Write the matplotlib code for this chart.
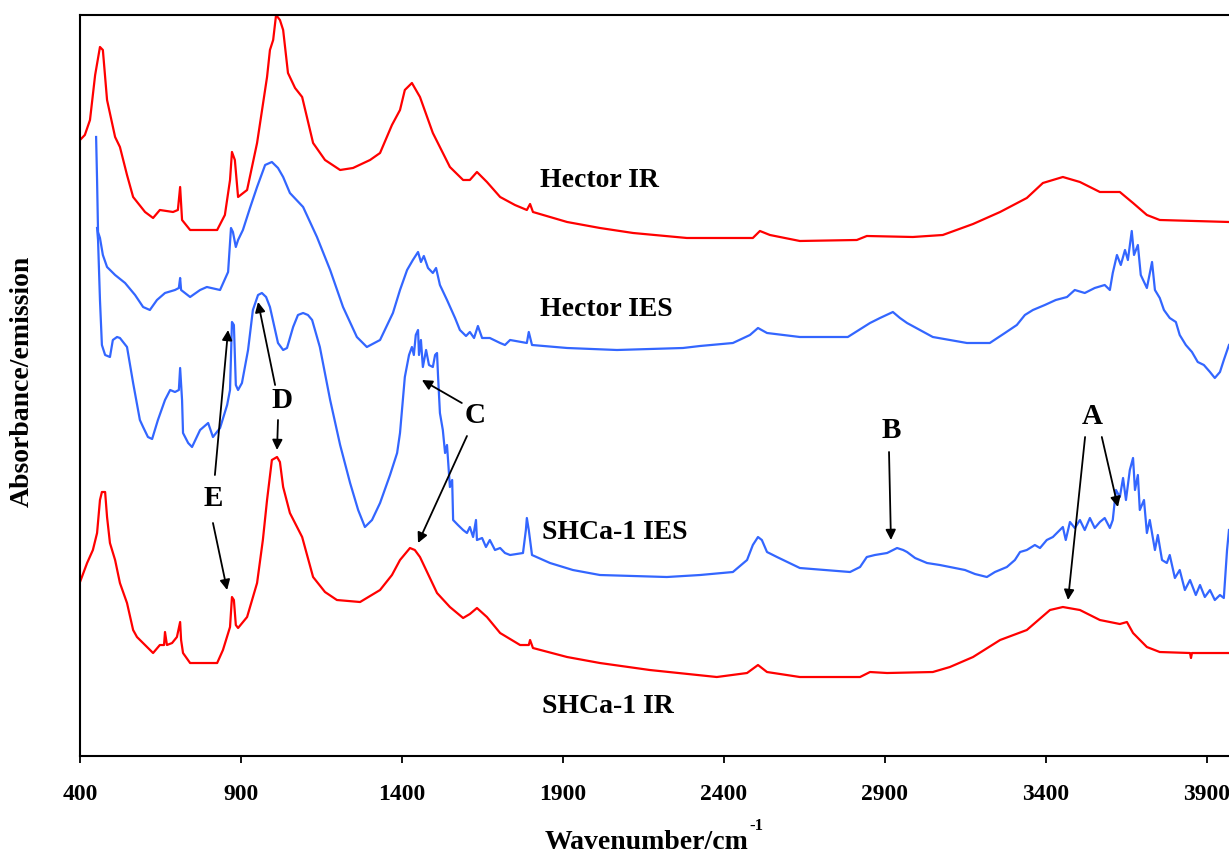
import matplotlib
matplotlib.use('Agg')
import matplotlib.pyplot as plt

# Spectra (wavenumber / offset absorbance-emission, arbitrary units)
hector_ir_wn = [400, 415, 431, 447, 462, 471, 484, 509, 524, 546, 565, 602, 627, 648, 689, 704, 711, 717,
                742, 826, 850, 866, 872, 881, 891, 919, 950, 981, 990, 1000, 1009, 1021, 1031, 1046, 1068,
                1090, 1124, 1161, 1208, 1248, 1301, 1332, 1369, 1394, 1409, 1431, 1456, 1496, 1549, 1590,
                1611, 1633, 1664, 1705, 1751, 1788, 1798, 1807, 1913, 2015, 2118, 2285, 2490, 2512, 2543,
                2636, 2813, 2844, 2987, 3080, 3174, 3258, 3341, 3391, 3453, 3506, 3568, 3630, 3671, 3714,
                3754, 3969]
hector_ir_abs = [6.16, 6.21, 6.36, 6.81, 7.09, 7.06, 6.56, 6.19, 6.09, 5.81, 5.59, 5.44, 5.38, 5.46, 5.44,
                 5.46, 5.69, 5.36, 5.26, 5.26, 5.41, 5.76, 6.04, 5.96, 5.59, 5.66, 6.13, 6.79, 7.06, 7.16,
                 7.41, 7.36, 7.26, 6.83, 6.68, 6.59, 6.13, 5.96, 5.86, 5.88, 5.96, 6.03, 6.31, 6.46, 6.66,
                 6.73, 6.59, 6.23, 5.89, 5.76, 5.76, 5.84, 5.74, 5.59, 5.51, 5.46, 5.52, 5.44, 5.34, 5.28,
                 5.23, 5.18, 5.18, 5.25, 5.21, 5.15, 5.16, 5.20, 5.19, 5.21, 5.32, 5.44, 5.58, 5.73, 5.79,
                 5.74, 5.64, 5.64, 5.53, 5.41, 5.36, 5.34]

hector_ies_wn = [450, 453, 456, 462, 471, 484, 509, 540, 571, 596, 617, 639, 664, 695, 707, 711, 714, 742,
                 773, 794, 835, 860, 869, 875, 884, 891, 906, 928, 950, 975, 996, 1015, 1031, 1052, 1093,
                 1136, 1177, 1217, 1260, 1291, 1332, 1372, 1394, 1416, 1434, 1450, 1459, 1468, 1481, 1496,
                 1506, 1518, 1540, 1565, 1580, 1599, 1611, 1624, 1636, 1649, 1673, 1705, 1720, 1736, 1788,
                 1794, 1804, 1913, 2068, 2273, 2326, 2428, 2481, 2506, 2534, 2636, 2785, 2854, 2885, 2925,
                 2947, 2969, 3009, 3049, 3102, 3155, 3226, 3273, 3310, 3335, 3360, 3397, 3431, 3466, 3490,
                 3521, 3552, 3583, 3599, 3608, 3621, 3633, 3646, 3655, 3667, 3674, 3686, 3695, 3714, 3730,
                 3739, 3754, 3767, 3785, 3804, 3816, 3835, 3854, 3872, 3891, 3910, 3925, 3941, 3953, 3969]
hector_ies_abs = [6.19, 5.76, 5.24, 5.18, 5.01, 4.89, 4.81, 4.73, 4.61, 4.49, 4.46, 4.56, 4.63, 4.66, 4.68,
                  4.78, 4.66, 4.59, 4.66, 4.69, 4.66, 4.84, 5.28, 5.24, 5.09, 5.16, 5.26, 5.48, 5.69, 5.91,
                  5.94, 5.88, 5.79, 5.63, 5.49, 5.19, 4.86, 4.49, 4.19, 4.09, 4.16, 4.43, 4.66, 4.86, 4.96,
                  5.04, 4.94, 5.00, 4.88, 4.83, 4.88, 4.71, 4.56, 4.38, 4.26, 4.20, 4.24, 4.18, 4.30, 4.18,
                  4.18, 4.13, 4.11, 4.16, 4.13, 4.24, 4.11, 4.08, 4.06, 4.08, 4.10, 4.13, 4.21, 4.28, 4.23,
                  4.19, 4.19, 4.33, 4.38, 4.44, 4.38, 4.33, 4.26, 4.19, 4.16, 4.13, 4.13, 4.23, 4.31, 4.41,
                  4.46, 4.51, 4.56, 4.59, 4.66, 4.63, 4.68, 4.71, 4.66, 4.83, 5.01, 4.91, 5.06, 4.96, 5.25,
                  5.01, 5.11, 4.81, 4.68, 4.94, 4.66, 4.58, 4.46, 4.38, 4.34, 4.21, 4.11, 4.04, 3.94, 3.91,
                  3.84, 3.78, 3.84, 3.96, 4.11]

shca_ies_wn = [453, 456, 462, 468, 478, 493, 502, 515, 524, 546, 565, 586, 596, 611, 624, 642, 664, 680,
               695, 707, 711, 717, 720, 736, 748, 773, 798, 813, 835, 857, 866, 872, 878, 884, 891, 903,
               922, 937, 953, 965, 978, 990, 1006, 1015, 1031, 1043, 1062, 1077, 1093, 1108, 1121, 1145,
               1177, 1208, 1239, 1264, 1285, 1307, 1332, 1363, 1385, 1394, 1409, 1422, 1431, 1437, 1443,
               1450, 1453, 1459, 1465, 1475, 1484, 1496, 1503, 1509, 1512, 1518, 1527, 1534, 1540, 1549,
               1556, 1559, 1574, 1590, 1602, 1611, 1621, 1630, 1633, 1649, 1661, 1673, 1689, 1705, 1720,
               1736, 1776, 1785, 1788, 1794, 1804, 1860, 1931, 2015, 2223, 2326, 2428, 2472, 2490, 2506,
               2518, 2534, 2565, 2636, 2792, 2823, 2844, 2869, 2907, 2938, 2957, 2969, 2994, 3031, 3071,
               3102, 3149, 3180, 3217, 3242, 3279, 3304, 3320, 3341, 3366, 3382, 3403, 3422, 3444, 3453,
               3462, 3475, 3490, 3506, 3521, 3537, 3552, 3568, 3583, 3599, 3608, 3618, 3630, 3640, 3649,
               3661, 3671, 3677, 3686, 3692, 3705, 3714, 3723, 3739, 3748, 3761, 3776, 3785, 3801, 3816,
               3832, 3848, 3866, 3879, 3894, 3910, 3925, 3941, 3953, 3963, 3969]
shca_ies_abs = [5.28, 5.16, 4.56, 4.11, 4.01, 3.99, 4.16, 4.19, 4.18, 4.09, 3.73, 3.36, 3.29, 3.19, 3.17,
                3.36, 3.56, 3.66, 3.64, 3.66, 3.88, 3.56, 3.23, 3.13, 3.09, 3.26, 3.33, 3.19, 3.28, 3.51,
                3.66, 4.34, 4.31, 3.71, 3.66, 3.73, 4.06, 4.46, 4.61, 4.63, 4.59, 4.49, 4.26, 4.13, 4.06,
                4.08, 4.29, 4.41, 4.43, 4.41, 4.36, 4.09, 3.56, 3.11, 2.73, 2.46, 2.29, 2.36, 2.53, 2.81,
                3.03, 3.23, 3.79, 4.01, 4.09, 4.01, 4.21, 4.26, 4.01, 4.16, 3.89, 4.06, 3.91, 3.89, 4.01,
                4.03, 3.81, 3.43, 3.26, 3.03, 3.11, 2.69, 2.76, 2.36, 2.31, 2.26, 2.23, 2.29, 2.19, 2.36,
                2.16, 2.18, 2.09, 2.16, 2.06, 2.08, 2.03, 2.01, 2.03, 2.26, 2.38, 2.26, 2.01, 1.93, 1.86,
                1.81, 1.79, 1.81, 1.84, 1.96, 2.11, 2.19, 2.16, 2.04, 1.99, 1.88, 1.84, 1.89, 1.99, 2.01,
                2.03, 2.08, 2.06, 2.04, 1.98, 1.93, 1.91, 1.89, 1.86, 1.82, 1.79, 1.84, 1.89, 1.96, 2.04,
                2.06, 2.11, 2.08, 2.16, 2.19, 2.26, 2.29, 2.16, 2.34, 2.28, 2.36, 2.26, 2.38, 2.28, 2.34,
                2.38, 2.28, 2.36, 2.66, 2.59, 2.78, 2.56, 2.86, 2.98, 2.66, 2.81, 2.46, 2.56, 2.23, 2.36,
                2.06, 2.21, 1.96, 1.93, 2.01, 1.78, 1.86, 1.66, 1.76, 1.61, 1.71, 1.59, 1.66, 1.56, 1.61,
                1.58, 2.06, 2.26]

shca_ir_wn = [400, 422, 440, 453, 462, 468, 478, 484, 493, 509, 524, 546, 565, 577, 602, 627, 648, 661,
              664, 670, 686, 701, 711, 714, 720, 742, 826, 844, 866, 872, 878, 884, 891, 919, 950, 968,
              981, 996, 1012, 1021, 1031, 1052, 1090, 1124, 1161, 1198, 1270, 1332, 1369, 1394, 1425,
              1440, 1456, 1509, 1549, 1590, 1611, 1633, 1664, 1705, 1767, 1794, 1798, 1807, 1913, 2015,
              2170, 2378, 2472, 2506, 2534, 2636, 2823, 2854, 2907, 3049, 3102, 3174, 3258, 3341, 3413,
              3453, 3506, 3568, 3630, 3652, 3671, 3714, 3754, 3848, 3851, 3854, 3969]
shca_ir_abs = [1.74, 1.93, 2.06, 2.23, 2.56, 2.64, 2.64, 2.39, 2.13, 1.96, 1.73, 1.53, 1.26, 1.19, 1.11,
               1.03, 1.11, 1.11, 1.24, 1.11, 1.13, 1.19, 1.34, 1.16, 1.03, 0.93, 0.93, 1.06, 1.29, 1.59,
               1.56, 1.31, 1.28, 1.39, 1.73, 2.16, 2.56, 2.96, 2.99, 2.94, 2.69, 2.43, 2.19, 1.79, 1.64,
               1.56, 1.54, 1.66, 1.81, 1.96, 2.08, 2.06, 1.99, 1.63, 1.49, 1.38, 1.42, 1.48, 1.39, 1.23,
               1.11, 1.11, 1.16, 1.08, 0.99, 0.93, 0.86, 0.79, 0.83, 0.91, 0.84, 0.79, 0.79, 0.84, 0.83,
               0.84, 0.89, 0.99, 1.16, 1.26, 1.46, 1.49, 1.46, 1.36, 1.32, 1.34, 1.23, 1.09, 1.04, 1.03,
               0.98, 1.03, 1.03]

xticks = [400, 900, 1400, 1900, 2400, 2900, 3400, 3900]

RED = '#FF0000'
BLUE = '#3366FF'
SERIF = 'Liberation Serif'

fig = plt.figure(figsize=(12.29, 8.56), dpi=100)
# axes run past the right edge like in the original (cropped) figure
ax = fig.add_axes([0.0651, 0.1168, 0.943, 0.8657])

ax.plot(hector_ir_wn, hector_ir_abs, color=RED, lw=1.6)
ax.plot(hector_ies_wn, hector_ies_abs, color=BLUE, lw=1.6)
ax.plot(shca_ies_wn, shca_ies_abs, color=BLUE, lw=1.6)
ax.plot(shca_ir_wn, shca_ir_abs, color=RED, lw=1.6)

ax.set_xlim(400, 4000)
ax.set_ylim(0, 7.41)

# curve names
lab = dict(fontsize=20, fontweight='bold', family=SERIF, ha='left', va='center')
ax.text(1829, 5.75, 'Hector IR', **lab)
ax.text(1829, 4.46, 'Hector IES', **lab)
ax.text(1835, 2.24, 'SHCa-1 IES', **lab)
ax.text(1835, 0.50, 'SHCa-1 IR', **lab)

# band markers
let = dict(fontsize=21, fontweight='bold', family=SERIF, ha='center', va='center')
ax.text(3543, 3.40, 'A', **let)
ax.text(2919, 3.26, 'B', **let)
ax.text(1627, 3.41, 'C', **let)
ax.text(1027, 3.56, 'D', **let)
ax.text(813, 2.58, 'E', **let)

arr = dict(arrowstyle='-|>', color='black', lw=1.3, mutation_scale=15, shrinkA=0, shrinkB=0)
arrows = [
    ((3522, 3.19), (3469, 1.56)),
    ((3574, 3.19), (3624, 2.49)),
    ((2913, 3.04), (2919, 2.16)),
    ((1586, 3.53), (1462, 3.76)),
    ((1602, 3.20), (1450, 2.13)),
    ((1015, 3.36), (1012, 3.06)),
    ((1006, 3.71), (953, 4.54)),
    ((819, 2.81), (860, 4.26)),
    ((813, 2.33), (857, 1.66)),
]
for tail, head in arrows:
    ax.annotate('', xy=head, xytext=tail, arrowprops=arr)

# axes styling
for s in ['left', 'bottom', 'top', 'right']:
    ax.spines[s].set_linewidth(1.5)
ax.set_yticks([])
ax.set_xticks(xticks)
ax.tick_params(axis='x', direction='out', length=5, width=1.3, pad=15)
for t in ax.get_xticklabels():
    t.set_fontsize(17)
    t.set_fontweight('bold')
    t.set_family(SERIF)

# x label with a small superscript placed after it
xl = fig.text(545 / 1229, 1 - 830 / 856, 'Wavenumber/cm', fontsize=20, fontweight='bold',
              family=SERIF, ha='left', va='top')
ax.annotate('-1', xy=(1.0, 1.0), xycoords=xl, xytext=(0, 3), textcoords='offset points',
            fontsize=12, fontweight='bold', family=SERIF, ha='left', va='center')

ax.set_ylabel('Absorbance/emission', fontsize=20, fontweight='bold', family=SERIF)
ax.yaxis.set_label_coords(-0.0388, 0.505)

plt.savefig('out.png', dpi=100)
